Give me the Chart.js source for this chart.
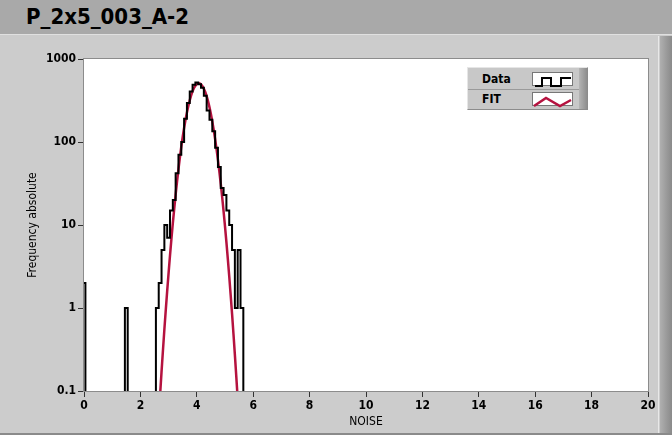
<!DOCTYPE html>
<html>
<head>
<meta charset="utf-8">
<script src="https://cdn.jsdelivr.net/npm/chart.js@4.4.1/dist/chart.umd.min.js"></script>
<style>
    body { margin: 0; width: 672px; height: 435px; overflow: hidden; background: #cccccc; position: relative;
           font-family: "DejaVu Sans Condensed", "DejaVu Sans", sans-serif; }
    #titlebar { position: absolute; left: 0; top: 0; width: 672px; height: 34px; background: #a9a9a9; }
    #title { position: absolute; left: 26px; top: 4px; font-weight: bold; font-size: 22px; color: #000; }
    #panel { position: absolute; left: 0; top: 34px; width: 672px; height: 401px; box-sizing: border-box;
             border-top: 1px solid #e0e0e0; border-bottom: 2px solid #8a8a8a; }
    #rightstrip { position: absolute; left: 658px; top: 36px; width: 14px; height: 397px;
                  background: linear-gradient(to right, #e8e8e8 0px, #e8e8e8 1px, #b0b0b0 2px, #9c9c9c 8px, #8a8a8a 14px); }
    #graph-container { position: absolute; left: 0; top: 0; }
    #legend { position: absolute; left: 467px; top: 67px; width: 121px; height: 43px; box-sizing: border-box;
              background: #c8c8c8; border: 1px solid #8c8c8c; border-top-color: #e6e6e6; border-left-color: #e6e6e6; }
    #legend .strip { position: absolute; right: 0; top: 0; width: 8px; height: 100%; background: linear-gradient(to right, #b4b4b4, #8e8e8e); }
    #legend .row { position: absolute; left: 0; width: 112px; height: 20px; }
    #legend .lbl { position: absolute; left: 14px; top: 3px; font-size: 12px; font-weight: bold; color: #000; }
    #legend .icon { position: absolute; left: 64px; top: 3px; width: 41px; height: 14px; background: #fff;
                    border: 1px solid #777; box-sizing: border-box; }
    #legend .sep { position: absolute; left: 0; top: 21px; width: 112px; height: 1px; background: #9a9a9a; }
</style>
</head>
<body>
<div id="titlebar"><div id="title">P_2x5_003_A-2</div></div>
<div id="panel"></div>
<div id="rightstrip"></div>
<canvas id="graph-container" width="672" height="435"></canvas>
<div id="legend">
    <div class="row" style="top:1px;">
        <span class="lbl">Data</span>
        <div class="icon"><svg width="39" height="12"><polyline points="2,10 9,10 9,2 18,2 18,10 28,10 28,2 38,2" fill="none" stroke="#000" stroke-width="2"/></svg></div>
    </div>
    <div class="sep"></div>
    <div class="row" style="top:21px;">
        <span class="lbl">FIT</span>
        <div class="icon"><svg width="39" height="12"><polyline points="1,10 13,2 27,10 38,4" fill="none" stroke="#b5123f" stroke-width="2.5"/></svg></div>
    </div>
    <div class="strip"></div>
</div>
<script>
// histogram bins (centres, width 0.1) and counts
const histBins = [0, 1.5, 2.6, 2.7, 2.8, 2.9, 3.0, 3.1, 3.2, 3.3, 3.4, 3.5, 3.6, 3.7, 3.8, 3.9,
                  4.0, 4.1, 4.2, 4.3, 4.4, 4.5, 4.6, 4.7, 4.8, 4.9, 5.0, 5.1, 5.2, 5.3, 5.4, 5.5, 5.6];
const histCounts = [2, 1, 1, 2, 5, 10, 7, 15, 20, 42, 70, 100, 190, 295, 405, 490,
                    520, 495, 450, 360, 240, 185, 135, 85, 50, 28, 23, 15, 10, 5, 1, 5, 1];
const binWidth = 0.1;

// gaussian fit curve
const fitX = [2.6, 2.7, 2.8, 2.9, 3.0, 3.1, 3.2, 3.3, 3.4, 3.5, 3.6, 3.7, 3.8, 3.9, 4.0,
              4.1, 4.2, 4.3, 4.4, 4.5, 4.6, 4.7, 4.8, 4.9, 5.0, 5.1, 5.2, 5.3, 5.4, 5.5];
const fitY = [0.025, 0.092, 0.31, 0.95, 2.65, 6.8, 15.8, 33.5, 65, 115, 185, 272, 365, 447, 499,
              508, 472, 400, 309, 218, 140, 82, 44, 21.6, 9.6, 3.9, 1.45, 0.49, 0.15, 0.043];

const xTicks = [0, 2, 4, 6, 8, 10, 12, 14, 16, 18, 20];
const yTickValues = [0.1, 1, 10, 100, 1000];
const yTickLabels = ['0.1', '1', '10', '100', '1000'];

const FLOOR = 0.01; // empty bins drop below the visible range

function buildSteps() {
    let pts = [];
    let prev = null;
    for (let i = 0; i < histBins.length; i++) {
        let left = histBins[i] - binWidth / 2;
        if (prev !== null && histBins[i] - prev > binWidth * 1.5) {
            pts.push({x: prev + binWidth / 2, y: FLOOR});
        }
        pts.push({x: left, y: histCounts[i]});
        prev = histBins[i];
    }
    pts.push({x: prev + binWidth / 2, y: FLOOR});
    return pts;
}

const plotFrame = {
    id: 'plotFrame',
    beforeDatasetsDraw(chart) {
        const {ctx, chartArea: a} = chart;
        ctx.save();
        ctx.fillStyle = '#ffffff';
        ctx.fillRect(a.left, a.top, a.right - a.left, a.bottom - a.top);
        ctx.restore();
    },
    afterDraw(chart) {
        const {ctx, chartArea: a} = chart;
        ctx.save();
        ctx.strokeStyle = '#8c8c8c';
        ctx.lineWidth = 1;
        ctx.strokeRect(a.left - 0.5, a.top - 0.5, a.right - a.left + 1, a.bottom - a.top + 1);
        ctx.restore();
    }
};

const ctx = document.getElementById('graph-container').getContext('2d');
const tickFont = {family: '"DejaVu Sans Condensed", "DejaVu Sans", sans-serif', size: 12, weight: 'bold'};
const titleFont = {family: '"DejaVu Sans Condensed", "DejaVu Sans", sans-serif', size: 12};

new Chart(ctx, {
    type: 'line',
    data: {
        datasets: [{
            label: 'Data',
            data: buildSteps(),
            stepped: true, // horizontal first, then vertical
            borderColor: '#000000',
            borderWidth: 2,
            borderJoinStyle: 'miter',
            pointRadius: 0,
            fill: false,
            clip: 0
        }, {
            label: 'FIT',
            data: fitX.map((x, i) => ({x: x, y: fitY[i]})),
            borderColor: '#b5123f',
            borderWidth: 2.5,
            tension: 0.4,
            pointRadius: 0,
            fill: false,
            clip: 0
        }]
    },
    options: {
        responsive: false,
        animation: false,
        layout: {padding: {left: 0, top: 59, right: 24, bottom: 0}},
        plugins: {legend: {display: false}, tooltip: {enabled: false}},
        scales: {
            x: {
                type: 'linear',
                min: 0,
                max: 20,
                afterBuildTicks: s => { s.ticks = xTicks.map(v => ({value: v})); },
                afterFit: s => { s.height = 44; },
                ticks: {color: '#000', font: tickFont, padding: 2, maxRotation: 0},
                grid: {drawOnChartArea: false, drawTicks: true, tickLength: 6, color: '#333', tickWidth: 1},
                border: {display: true, color: '#8c8c8c'},
                title: {display: true, text: 'NOISE', color: '#000', font: titleFont, padding: {top: 6, bottom: 6}}
            },
            y: {
                type: 'logarithmic',
                min: 0.1,
                max: 1000,
                afterBuildTicks: s => { s.ticks = yTickValues.map(v => ({value: v})); },
                afterFit: s => { s.width = 84; },
                ticks: {
                    color: '#000', font: tickFont, padding: 2,
                    callback: v => yTickLabels[yTickValues.indexOf(v)]
                },
                grid: {drawOnChartArea: false, drawTicks: true, tickLength: 6, color: '#333', tickWidth: 1},
                border: {display: true, color: '#8c8c8c'},
                title: {display: true, text: 'Frequency absolute', color: '#000', font: titleFont, padding: {top: 26, bottom: 26}}
            }
        }
    },
    plugins: [plotFrame]
});
</script>
</body>
</html>
